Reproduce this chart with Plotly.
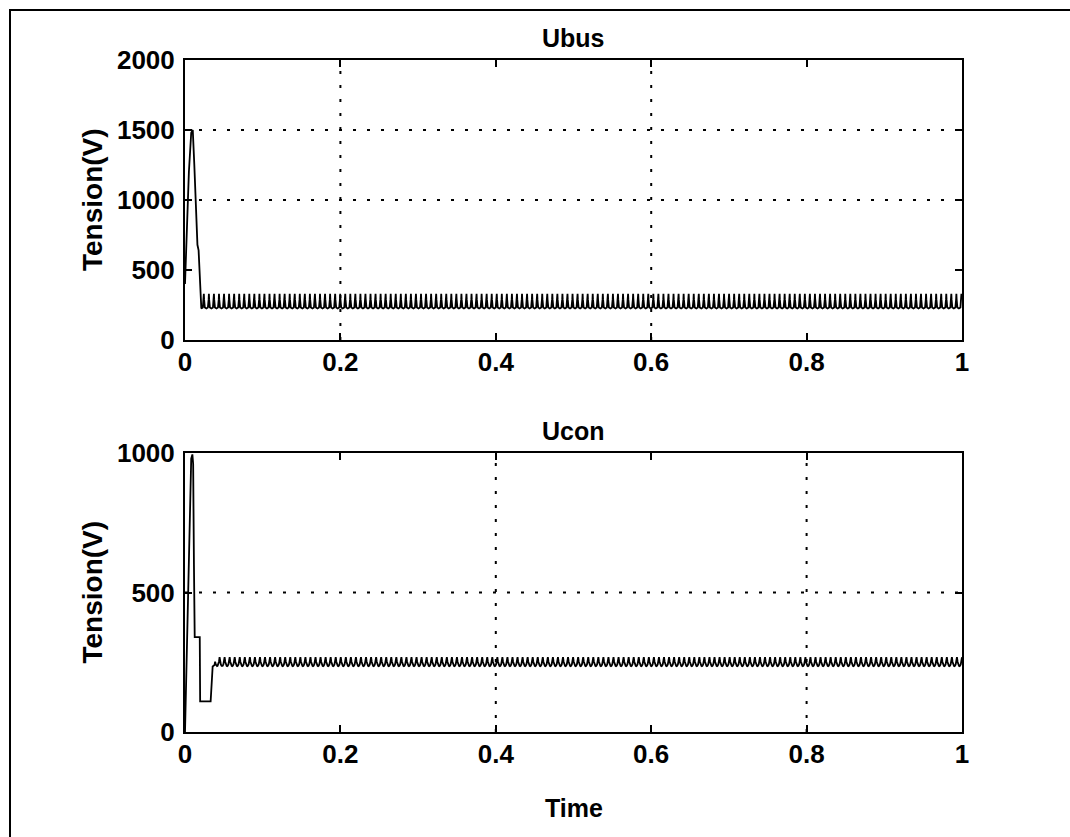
import numpy as np
import plotly.graph_objects as go

# ---------------- data ----------------
# Ubus start-up transient
ubus_t = [0.0, 0.002, 0.005, 0.008, 0.010, 0.012, 0.0145, 0.016, 0.0175, 0.019, 0.021]
ubus_v = [400, 700, 1200, 1480, 1500, 1250, 800, 680, 640, 400, 225]
# Ubus steady-state ripple: one cycle (phase fraction, value)
ubus_cycle_phase = [0.0, 0.30, 0.45, 0.50, 0.55, 0.70, 1.0]
ubus_cycle_v = [225, 232, 290, 330, 290, 232, 225]

# Ucon start-up transient
ucon_t = [0.0, 0.002, 0.004, 0.006, 0.008, 0.0095, 0.0105, 0.0115, 0.0125, 0.019, 0.0195,
          0.033, 0.0345, 0.0356, 0.038]
ucon_v = [0, 250, 520, 800, 980, 995, 960, 600, 340, 340, 110, 110, 200, 235, 240]
# Ucon steady-state ripple: one cycle (phase fraction, value)
ucon_cycle_phase = [0.0, 0.12, 0.25, 0.40, 0.50, 0.60, 0.75, 0.88, 1.0]
ucon_cycle_v = [268, 252, 242, 237, 236, 237, 242, 252, 268]

ripple_period = 0.0065
t_end = 1.0

x_ticks = [0, 0.2, 0.4, 0.6, 0.8, 1]
x_ticktext = ["0", "0.2", "0.4", "0.6", "0.8", "1"]
ubus_yticks = [0, 500, 1000, 1500, 2000]
ucon_yticks = [0, 500, 1000]
ubus_grid_x = [0.2, 0.6]
ubus_grid_y = [1000, 1500]
ucon_grid_x = [0.4, 0.8]
ucon_grid_y = [500]


def build(t0, v0, phase, vals):
    t = list(t0)
    v = list(v0)
    start = t0[-1]
    k = 0
    while True:
        base = start + k * ripple_period
        if base >= t_end:
            break
        for p, val in zip(phase[1:], vals[1:]):
            tt = base + p * ripple_period
            if tt > t_end:
                break
            t.append(tt)
            v.append(val)
        k += 1
    return t, v


ubus_x, ubus_y = build(ubus_t, ubus_v, ubus_cycle_phase, ubus_cycle_v)
ucon_x, ucon_y = build(ucon_t, ucon_v, ucon_cycle_phase, ucon_cycle_v)

W, H = 1070, 837
# plot areas in pixels
L, R = 185, 962
T1, B1 = 60, 340
T2, B2 = 453, 732


def px_x(p):
    return p / W


def px_y(p):
    return 1 - p / H


FONT = "Liberation Sans, Arial, sans-serif"
tickfont = dict(family=FONT, size=26, color="black", weight="bold")

fig = go.Figure()
fig.add_trace(go.Scatter(x=ubus_x, y=ubus_y, mode="lines",
                         line=dict(color="black", width=1.8), xaxis="x", yaxis="y",
                         showlegend=False, hoverinfo="skip"))
fig.add_trace(go.Scatter(x=ucon_x, y=ucon_y, mode="lines",
                         line=dict(color="black", width=1.8), xaxis="x2", yaxis="y2",
                         showlegend=False, hoverinfo="skip"))

axis_common = dict(showline=True, linecolor="black", linewidth=2, mirror="ticks",
                   ticks="inside", ticklen=7, tickwidth=2, tickcolor="black",
                   showgrid=False, zeroline=False, tickfont=tickfont, automargin=False)

fig.update_layout(
    width=W, height=H,
    margin=dict(l=0, r=0, t=0, b=0, pad=0, autoexpand=False),
    paper_bgcolor="white", plot_bgcolor="white",
    xaxis=dict(domain=[px_x(L), px_x(R)], range=[0, 1], tickvals=x_ticks,
               ticktext=x_ticktext, anchor="y", ticklabelstandoff=-2, **axis_common),
    yaxis=dict(domain=[px_y(B1), px_y(T1)], range=[0, 2000], tickvals=ubus_yticks,
               anchor="x", ticklabelstandoff=3, **axis_common),
    xaxis2=dict(domain=[px_x(L), px_x(R)], range=[0, 1], tickvals=x_ticks,
                ticktext=x_ticktext, anchor="y2", ticklabelstandoff=-2, **axis_common),
    yaxis2=dict(domain=[px_y(B2), px_y(T2)], range=[0, 1000], tickvals=ucon_yticks,
                anchor="x2", ticklabelstandoff=3, **axis_common),
)

shapes = []
dot = dict(color="black", width=2, dash="3px,11px")
for gx in ubus_grid_x:
    shapes.append(dict(type="line", xref="x", yref="y domain", x0=gx, x1=gx, y0=0, y1=1, line=dot, layer="below"))
for gy in ubus_grid_y:
    shapes.append(dict(type="line", xref="x domain", yref="y", x0=0, x1=1, y0=gy, y1=gy, line=dot, layer="below"))
for gx in ucon_grid_x:
    shapes.append(dict(type="line", xref="x2", yref="y2 domain", x0=gx, x1=gx, y0=0, y1=1, line=dot, layer="below"))
for gy in ucon_grid_y:
    shapes.append(dict(type="line", xref="x2 domain", yref="y2", x0=0, x1=1, y0=gy, y1=gy, line=dot, layer="below"))
# outer frame
shapes.append(dict(type="rect", xref="paper", yref="paper", x0=px_x(10), x1=1.05,
                   y0=-0.05, y1=px_y(10), line=dict(color="black", width=2)))
fig.update_layout(shapes=shapes)

labfont = dict(family=FONT, size=25, color="black", weight="bold")
yfont = dict(family=FONT, size=28, color="black", weight="bold")
ann = [
    dict(text="Ubus", x=(px_x(L) + px_x(R)) / 2, y=px_y(38), xref="paper", yref="paper",
         showarrow=False, font=labfont, xanchor="center", yanchor="middle"),
    dict(text="Ucon", x=(px_x(L) + px_x(R)) / 2, y=px_y(431), xref="paper", yref="paper",
         showarrow=False, font=labfont, xanchor="center", yanchor="middle"),
    dict(text="Time", x=(px_x(L) + px_x(R)) / 2, y=px_y(808), xref="paper", yref="paper",
         showarrow=False, font=labfont, xanchor="center", yanchor="middle"),
    dict(text="Tension(V)", x=px_x(92), y=px_y((T1 + B1) / 2), xref="paper", yref="paper",
         showarrow=False, font=yfont, textangle=-90, xanchor="center", yanchor="middle"),
    dict(text="Tension(V)", x=px_x(92), y=px_y((T2 + B2) / 2), xref="paper", yref="paper",
         showarrow=False, font=yfont, textangle=-90, xanchor="center", yanchor="middle"),
]
fig.update_layout(annotations=ann)

fig.write_html("out.html", config={"displayModeBar": False},
               post_script="document.body.style.margin='0';document.body.style.overflow='hidden';")
